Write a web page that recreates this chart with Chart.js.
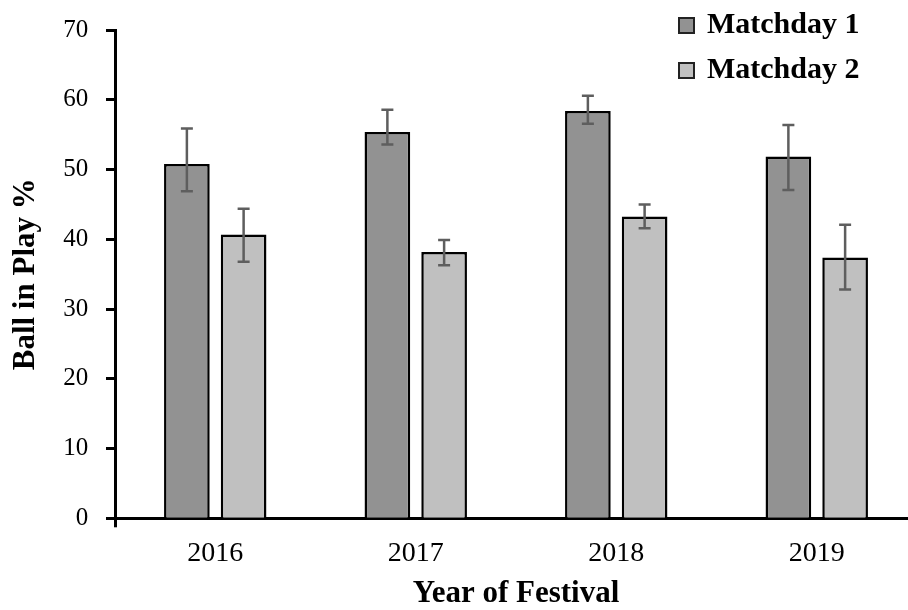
<!DOCTYPE html>
<html>
<head>
<meta charset="utf-8">
<style>
  html, body { margin: 0; padding: 0; background: #fff; overflow: hidden; }
  #wrap { width: 917px; height: 610px; }
</style>
</head>
<body>
<div id="wrap"><canvas id="chart" width="917" height="610"></canvas></div>
<script src="https://cdn.jsdelivr.net/npm/chart.js@4.4.1/dist/chart.umd.min.js"></script>
<script>
const years = ["2016", "2017", "2018", "2019"];
const matchday1 = [50.8, 55.4, 58.4, 51.9];
const matchday1Plus = [5.1, 3.2, 2.2, 4.5];
const matchday1Minus = [3.9, 1.8, 1.8, 4.8];
const matchday2 = [40.7, 38.2, 43.3, 37.4];
const matchday2Plus = [3.7, 1.7, 1.7, 4.7];
const matchday2Minus = [3.9, 1.9, 1.7, 4.6];
const yTicks = [0, 10, 20, 30, 40, 50, 60, 70];

Chart.defaults.font.family = "'Liberation Serif', 'Times New Roman', serif";
Chart.defaults.color = "#000";

// error bars drawn from the data through the y scale
const errorBars = {
  id: "errorBars",
  afterDatasetsDraw(chart) {
    const ctx = chart.ctx;
    const y = chart.scales.y;
    chart.data.datasets.forEach((ds, i) => {
      const meta = chart.getDatasetMeta(i);
      meta.data.forEach((bar, j) => {
        const v = ds.data[j];
        const top = y.getPixelForValue(v + ds.errPlus[j]);
        const bot = y.getPixelForValue(v - ds.errMinus[j]);
        ctx.save();
        ctx.strokeStyle = "#5e5e5e";
        ctx.lineWidth = 2.5;
        ctx.beginPath();
        ctx.moveTo(bar.x, top);
        ctx.lineTo(bar.x, bot);
        ctx.moveTo(bar.x - 6, top);
        ctx.lineTo(bar.x + 6, top);
        ctx.moveTo(bar.x - 6, bot);
        ctx.lineTo(bar.x + 6, bot);
        ctx.stroke();
        ctx.restore();
      });
    });
  }
};

// legend in the top right corner, stacked
const cornerLegend = {
  id: "cornerLegend",
  afterDraw(chart) {
    const ctx = chart.ctx;
    ctx.save();
    chart.data.datasets.forEach((ds, i) => {
      const base = 33 + i * 45;
      ctx.fillStyle = ds.backgroundColor;
      ctx.fillRect(679, base - 15, 15, 15);
      ctx.strokeStyle = "#222";
      ctx.lineWidth = 2;
      ctx.strokeRect(679, base - 15, 15, 15);
      ctx.fillStyle = "#000";
      ctx.font = "bold 30px 'Liberation Serif', serif";
      ctx.textBaseline = "alphabetic";
      ctx.textAlign = "left";
      ctx.fillText(ds.label, 707, base);
    });
    ctx.restore();
  }
};

new Chart(document.getElementById("chart"), {
  type: "bar",
  data: {
    labels: years,
    datasets: [
      {
        label: "Matchday 1",
        data: matchday1,
        errPlus: matchday1Plus,
        errMinus: matchday1Minus,
        backgroundColor: "#929292",
        borderColor: "#000",
        borderWidth: 2.5,
        categoryPercentage: 0.566,
        barPercentage: 0.805,
      },
      {
        label: "Matchday 2",
        data: matchday2,
        errPlus: matchday2Plus,
        errMinus: matchday2Minus,
        backgroundColor: "#c0c0c0",
        borderColor: "#000",
        borderWidth: 2.5,
        categoryPercentage: 0.566,
        barPercentage: 0.805,
      },
    ],
  },
  options: {
    responsive: false,
    animation: false,
    layout: { padding: { top: 28.3, right: 0, left: 0, bottom: 0 } },
    plugins: {
      legend: { display: false },
      tooltip: { enabled: false },
    },
    scales: {
      x: {
        grid: {
          drawOnChartArea: false,
          drawTicks: true,
          tickLength: 9,
          tickWidth: 3,
          tickColor: (c) => (c.index === 0 ? "#000" : "rgba(0,0,0,0)"),
        },
        border: { color: "#000", width: 3 },
        ticks: {
          padding: 12,
          font: { size: 28, lineHeight: 1 },
          color: "#000",
        },
        title: {
          display: true,
          text: "Year of Festival",
          font: { size: 31, weight: "bold", lineHeight: 1 },
          padding: { top: 0, bottom: 1 },
          color: "#000",
        },
        afterFit(scale) {
          scale.height = 91.7;
        },
      },
      y: {
        min: yTicks[0],
        max: yTicks[yTicks.length - 1],
        afterBuildTicks(scale) {
          scale.ticks = yTicks.map((v) => ({ value: v }));
        },
        grid: {
          drawOnChartArea: false,
          tickLength: 9,
          tickWidth: 3,
          tickColor: "#000",
        },
        border: { color: "#000", width: 3 },
        ticks: {
          padding: 17.7,
          font: { size: 25, lineHeight: 1 },
          color: "#000",
        },
        title: {
          display: true,
          text: "Ball in Play %",
          font: { size: 31, weight: "bold", lineHeight: 1 },
          padding: { top: 10.5, bottom: 0 },
          color: "#000",
        },
        afterFit(scale) {
          scale.width = 115;
        },
      },
    },
  },
  plugins: [errorBars, cornerLegend],
});
</script>
</body>
</html>
